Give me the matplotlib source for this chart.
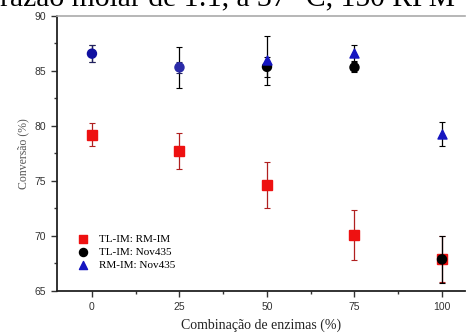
import numpy as np
import matplotlib
matplotlib.use("Agg")
import matplotlib.pyplot as plt
from matplotlib.ticker import MultipleLocator

# enzyme combination (%)
comb = [0, 25, 50, 75, 100]

# TL-IM: RM-IM
tl_rm = [79.2, 77.7, 74.6, 70.05, 67.85]
tl_rm_err = [1.05, 1.6, 2.1, 2.3, 2.1]

# TL-IM: Nov435
tl_nov = [86.55, 85.3, 85.35, 85.3, 67.85]
tl_nov_err = [0.75, 1.9, 0.9, 0.45, 2.15]

# RM-IM: Nov435
rm_nov = [86.55, 85.3, 85.95, 86.6, 79.25]
rm_nov_err = [0.75, 0.5, 2.25, 0.7, 1.05]

serif = ['Liberation Serif', 'DejaVu Serif']
sans = ['Liberation Sans', 'DejaVu Sans']

right_px = 465.0

fig = plt.figure(figsize=(4.69, 3.34), dpi=100)
# source image is cropped on the right, so no right spine
ax = fig.add_axes([57.3 / 469, 43.3 / 334, (right_px - 57.3) / 469, 275 / 334])
ax.patch.set_visible(False)

# cut-off caption line above the chart
fig.text(-0.001, 0.985, 'razão molar de 1:1, a 37 °C, 150 RPM', family=serif,
         fontsize=21.3, va='baseline', ha='left', color='black')

ms = 6.5
ax.errorbar(comb, tl_rm, yerr=tl_rm_err, fmt='s', color='#ee1111', ecolor='#b02020',
            elinewidth=0.9, capsize=2.5, capthick=0.8, markersize=ms, zorder=3,
            label='TL-IM: RM-IM')
ax.errorbar(comb, tl_nov, yerr=tl_nov_err, fmt='none', ecolor='black',
            elinewidth=0.9, capsize=2.5, capthick=0.8, zorder=4)
circle_colors = ['#1010a0', '#2a2aa8', 'black', 'black', 'black']
ax.scatter(comb, tl_nov, marker='o', s=ms ** 2, c=circle_colors, zorder=5)
ax.errorbar(comb[2:], rm_nov[2:], yerr=rm_nov_err[2:], fmt='none', ecolor='black',
            elinewidth=0.9, capsize=2.5, capthick=0.8, zorder=4)
ax.errorbar(comb[:2], rm_nov[:2], yerr=rm_nov_err[:2], fmt='none', ecolor='#202060',
            elinewidth=0.9, capsize=2.5, capthick=0.8, zorder=4)
ax.scatter(comb[2:], rm_nov[2:], marker='^', s=ms ** 2, c='#1515c0', zorder=6)

# legend handles
h1 = ax.scatter([], [], marker='s', s=ms ** 2 * 0.8, c='#ee1111')
h2 = ax.scatter([], [], marker='o', s=ms ** 2 * 0.8, c='black')
h3 = ax.scatter([], [], marker='^', s=ms ** 2 * 0.8, c='#1515c0')
ax.legend([h1, h2, h3], ['TL-IM: RM-IM', 'TL-IM: Nov435', 'RM-IM: Nov435'],
          loc='lower left', bbox_to_anchor=(0.02, 0.05), frameon=False,
          prop={'family': serif, 'size': 8}, handletextpad=0.4,
          labelspacing=0.3, borderaxespad=0.2)

ax.set_xlim(-9.9, 100 + (right_px - 442) / 3.5)
ax.set_ylim(65, 90)
ax.set_xticks(comb)
ax.set_yticks([65, 70, 75, 80, 85, 90])
ax.xaxis.set_minor_locator(MultipleLocator(12.5))
ax.yaxis.set_minor_locator(MultipleLocator(2.5))
ax.tick_params(which='major', direction='out', length=4, width=1, color='#333333',
               labelsize=7.5, labelcolor='#333333', pad=4)
ax.tick_params(which='minor', direction='out', length=2.5, width=1, color='#333333')
for lab in ax.get_xticklabels() + ax.get_yticklabels():
    lab.set_family(sans)

ax.spines['right'].set_visible(False)
ax.spines['top'].set_color('#aaaaaa')
ax.spines['top'].set_linewidth(1.2)
ax.spines['left'].set_linewidth(1.3)
ax.spines['bottom'].set_linewidth(1.3)
ax.spines['left'].set_color('#222222')
ax.spines['bottom'].set_color('#222222')

ax.set_xlabel('Combinação de enzimas (%)', family=serif, fontsize=10, color='#222222', labelpad=5)
ax.set_ylabel('Conversão (%)', family=serif, fontsize=8.5, color='#555555', labelpad=4)

fig.savefig('out.png', dpi=100, facecolor='white')
